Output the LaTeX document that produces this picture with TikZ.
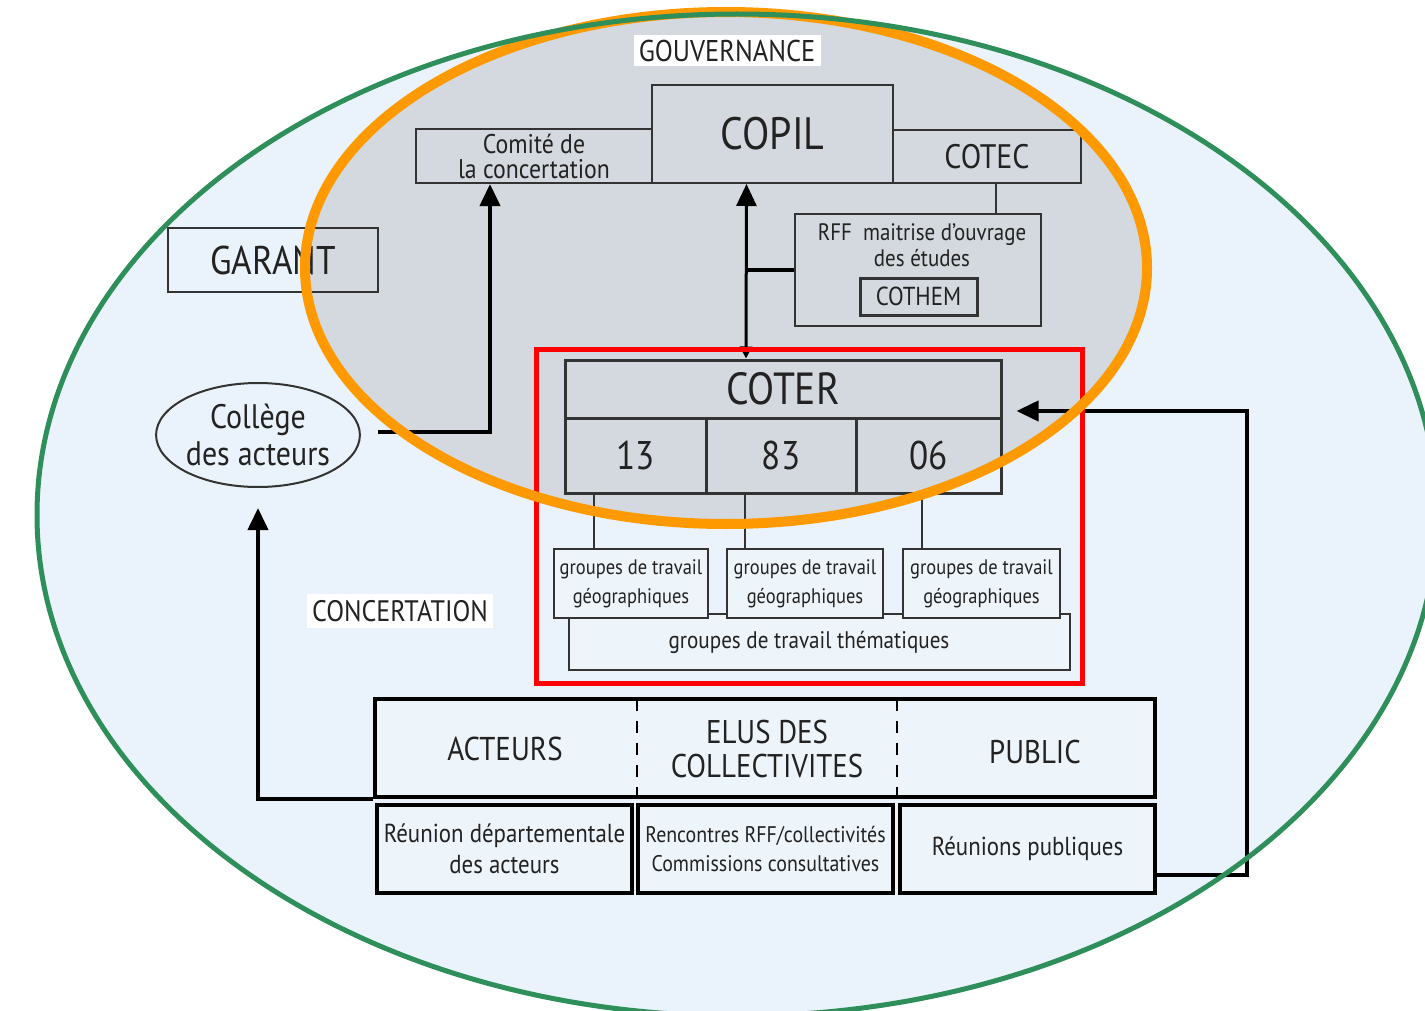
\documentclass[tikz,border=0pt]{standalone}
\usepackage{fontspec}
\setmainfont{PT Sans}[FakeStretch=0.88]
\usetikzlibrary{arrows.meta,calc,shapes.geometric}
\definecolor{bgblue}{HTML}{EAF3FB}
\definecolor{ggrey}{HTML}{D3D9DE}
\definecolor{gline}{HTML}{2F8F5B}
\definecolor{oline}{HTML}{FF9900}
\definecolor{ink}{HTML}{222222}
\definecolor{boxline}{HTML}{333333}
\definecolor{lightbox}{HTML}{EDF4FA}
\begin{document}
\begin{tikzpicture}[x=0.5pt,y=-0.5pt,
  box/.style={draw=boxline,line width=1pt,rectangle,inner sep=0pt,text=ink,align=center},
  coterbox/.style={draw=boxline,line width=1.5pt,rectangle,inner sep=0pt,text=ink,align=center},
  geobox/.style={box,fill=lightbox},
  botbox/.style={draw=black,line width=2pt,rectangle,inner sep=0pt,text=ink,align=center,fill=lightbox},
  tag/.style={fill=white,inner sep=0pt,text=ink},
  txt/.style={inner sep=0pt,text=ink,align=center},
  arr/.style={line width=2pt,draw=black,-{Triangle[length=11pt,width=10pt]}},
  link/.style={line width=1pt,draw=boxline}
]
\useasboundingbox (0,0) rectangle (1425,1011);
\fill[white] (0,0) rectangle (1425,1011);
\fill[bgblue] (737,515) ellipse [x radius=350pt, y radius=250.5pt];
\fill[ggrey] (726,268) ellipse [x radius=210.5pt, y radius=128pt];

% labels
\node[tag,minimum width=93.5pt,minimum height=15.5pt,font=\fontsize{15}{17}\selectfont] (gouv) at (727,51) {GOUVERNANCE};
\node[tag,minimum width=93pt,minimum height=17pt,font=\fontsize{14.8}{17}\selectfont] (conc) at (400,611) {CONCERTATION};

% governance
\node[box,minimum width=118pt,minimum height=27pt,font=\fontsize{13.5}{12.5}\selectfont] (comite) at (534,156) {Comité de\\la concertation};
\node[box,minimum width=120.5pt,minimum height=49pt,font=\fontsize{22.7}{25}\selectfont] (copil) at (772.5,134) {COPIL};
\node[box,minimum width=94pt,minimum height=26.5pt,font=\fontsize{17}{20}\selectfont] (cotec) at (987,157) {COTEC};
\node[box,minimum width=123pt,minimum height=56pt] (rff) at (918,270) {};
\node[txt,font=\fontsize{11.9}{13}\selectfont] (rfftxt) at (922,245) {RFF\ \ maitrise d’ouvrage\\des études};
\node[box,line width=1.5pt,minimum width=58.5pt,minimum height=18.5pt,font=\fontsize{13}{13}\selectfont] (cothem) at (918.5,296.5) {COTHEM};

\node[box,minimum width=105pt,minimum height=32pt,font=\fontsize{20}{21}\selectfont] (garant) at (273,260) {GARANT};
\node[ellipse,draw=boxline,line width=1pt,minimum width=100pt,minimum height=52pt,inner sep=0pt,text=ink,align=center,font=\fontsize{17}{18.5}\selectfont] (college) at (258,435) {Collège\\des acteurs};

% COTER
\node[coterbox,minimum width=218pt,minimum height=29pt,font=\fontsize{22.5}{24}\selectfont] (coter) at (783,389) {COTER};
\node[coterbox,minimum width=70.5pt,minimum height=37.5pt,font=\fontsize{20}{24}\selectfont] (c13) at (635.5,455.5) {13};
\node[coterbox,minimum width=75pt,minimum height=37.5pt,font=\fontsize{20}{24}\selectfont] (c83) at (781,455.5) {83};
\node[coterbox,minimum width=72.5pt,minimum height=37.5pt,font=\fontsize{20}{24}\selectfont] (c06) at (928.5,455.5) {06};

\node[geobox,minimum width=250.5pt,minimum height=28pt] (them) at (819.5,642) {};
\node[txt,font=\fontsize{12}{13}\selectfont] (themtxt) at (809,642) {groupes de travail thématiques};
\node[geobox,minimum width=77pt,minimum height=34.5pt,font=\fontsize{10.5}{14.5}\selectfont] (geo1) at (631,583.5) {groupes de travail\\géographiques};
\node[geobox,minimum width=78pt,minimum height=34.5pt,font=\fontsize{10.5}{14.5}\selectfont] (geo2) at (805,583.5) {groupes de travail\\géographiques};
\node[geobox,minimum width=78.5pt,minimum height=34.5pt,font=\fontsize{10.5}{14.5}\selectfont] (geo3) at (981.5,583.5) {groupes de travail\\géographiques};

% bottom
\node[botbox,minimum width=390pt,minimum height=49pt] (header) at (765,748) {};
\node[txt,font=\fontsize{16.5}{17}\selectfont] (acteurs) at (505,749) {ACTEURS};
\node[txt,font=\fontsize{16.4}{17}\selectfont] (elus) at (767,749) {ELUS DES\\COLLECTIVITES};
\node[txt,font=\fontsize{16.4}{17}\selectfont] (public) at (1035,752) {PUBLIC};
\draw[line width=1pt,dash pattern=on 6pt off 5pt] (637,699) -- (637,797);
\draw[line width=1pt,dash pattern=on 6pt off 5pt] (897,699) -- (897,797);

\node[botbox,minimum width=127.5pt,minimum height=44pt,font=\fontsize{13}{15.5}\selectfont] (r1) at (504.5,849) {Réunion départementale\\des acteurs};
\node[botbox,minimum width=127.5pt,minimum height=44pt,font=\fontsize{11.3}{14.5}\selectfont] (r2) at (765.5,849) {Rencontres RFF/collectivités\\Commissions consultatives};
\node[botbox,minimum width=127.5pt,minimum height=44pt,font=\fontsize{13}{15}\selectfont] (r3) at (1027.5,849) {Réunions publiques};

% connectors
\coordinate (vtop) at ([xshift=-13pt]copil.south);
\coordinate (vbot) at ([xshift=-18.5pt]coter.north);
\draw[line width=1.5pt,{Triangle[length=6pt,width=6pt]}-{Triangle[length=11pt,width=10pt]}] (vbot) -- (vtop);
\draw[line width=2pt] (rff.west) -- (rff.west -| vtop);
\draw[link] ([xshift=4.5pt]cotec.south) -- ([xshift=4.5pt]cotec.south |- rff.north);
\coordinate (cstart) at (378,432);
\draw[arr] (cstart) -| ([xshift=-22pt]comite.south);
\draw[arr] (header.south west) -| ([yshift=-10pt]college.south);
\draw[arr] ([yshift=-13pt]r3.east) -- ++(45pt,0) |- ([xshift=7pt,yshift=-11pt]coter.east);
\draw[link] ([xshift=-20.75pt]c13.south) -- ([xshift=-20.75pt]c13.south |- geo1.north);
\draw[link] ([xshift=-18pt]c83.south) -- ([xshift=-18pt]c83.south |- geo2.north);
\draw[link] ([xshift=-3.25pt]c06.south) -- ([xshift=-3.25pt]c06.south |- geo3.north);

% overlays
\draw[red,line width=2.5pt] (536,349) rectangle (1082,683);
\draw[oline,line width=5pt] (726,268) ellipse [x radius=210.5pt, y radius=128pt];
\draw[gline,line width=2.5pt] (737,515) ellipse [x radius=350pt, y radius=250.5pt];
\end{tikzpicture}
\end{document}
